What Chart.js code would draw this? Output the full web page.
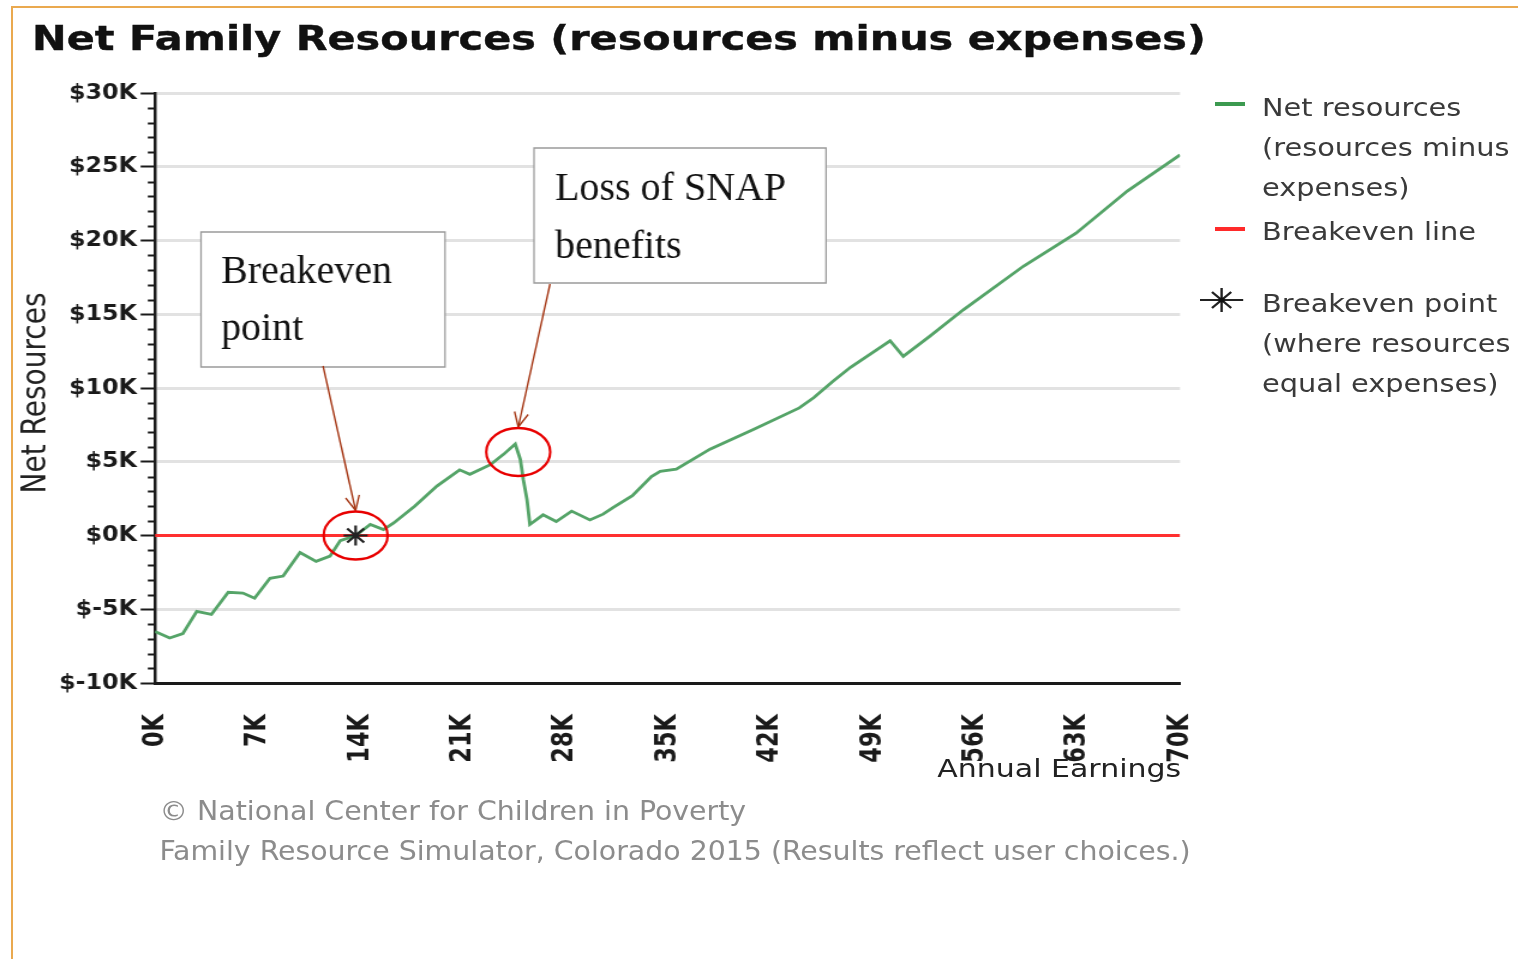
<!DOCTYPE html>
<html>
<head>
<meta charset="utf-8">
<script src="https://cdn.jsdelivr.net/npm/chart.js@4.4.0/dist/chart.umd.min.js"></script>
<style>
  html, body { margin:0; padding:0; background:#fff; width:1518px; height:959px; overflow:hidden; }
  #wrap { position:absolute; left:0; top:0; width:1265px; height:959px; transform:scaleX(1.2); transform-origin:0 0; }
  #c { position:absolute; left:0; top:0; }
  .t { position:absolute; white-space:nowrap; font-family:"DejaVu Sans", sans-serif; }
  #frame { position:absolute; left:11px; top:6px; width:1520px; height:960px; border-top:2.5px solid #eaa94f; border-left:2.5px solid #eaa94f; }
</style>
</head>
<body>
<div id="wrap">
  <canvas id="c" width="1265" height="959"></canvas>
  <div class="t" style="left:26.7px; top:20.8px; font-size:34.5px; line-height:1; font-weight:bold; color:#111; -webkit-text-stroke:0.4px #111;">Net Family Resources (resources minus expenses)</div>
  <div class="t" style="left:-121px; top:379px; width:300px; text-align:center; font-size:28px; line-height:28px; color:#222; transform:rotate(-90deg);">Net Resources</div>
  <div class="t" style="left:781px; top:756px; font-size:25px; line-height:1; color:#222;">Annual Earnings</div>
  <div class="t" style="left:133px; top:791px; font-family:'DejaVu Sans Condensed','DejaVu Sans',sans-serif; font-stretch:condensed; font-size:26.3px; line-height:40px; color:#8c8c8c;">© National Center for Children in Poverty<br>Family Resource Simulator, Colorado 2015 (Results reflect user choices.)</div>

  <svg style="position:absolute; left:0; top:0;" width="1265" height="959">
    <line x1="1012.5" y1="104" x2="1037.5" y2="104" stroke="#3c9a50" stroke-width="4"/>
    <line x1="1012.5" y1="229" x2="1037.5" y2="229" stroke="#ff2a2a" stroke-width="4"/>
    <g stroke="#222" stroke-width="2">
      <line x1="1000" y1="300" x2="1036" y2="300"/>
      <line x1="1018" y1="288" x2="1018" y2="312"/>
      <line x1="1010" y1="292" x2="1026" y2="308"/>
      <line x1="1010" y1="308" x2="1026" y2="292"/>
    </g>
    <circle cx="1018" cy="300" r="2.5" fill="#111"/>
  </svg>
  <div class="t" style="left:1051.7px; top:87.7px; font-size:24px; line-height:40px; color:#3a3a3a;">Net resources<br>(resources minus<br>expenses)</div>
  <div class="t" style="left:1051.7px; top:211.7px; font-size:24px; line-height:40px; color:#3a3a3a;">Breakeven line</div>
  <div class="t" style="left:1051.7px; top:283.7px; font-size:24px; line-height:40px; color:#3a3a3a;">Breakeven point<br>(where resources<br>equal expenses)</div>
</div>
<div id="frame"></div>

<script>
// ---- data ----
const earnings = [0, 1000, 1900, 2850, 3850, 5000, 6000, 6800, 7850, 8750, 9900, 11000, 11950, 12650, 13700, 14700, 15600, 16300, 17750, 19250, 20800, 21500, 22900, 23800, 24600, 24950, 25150, 25400, 25600, 26500, 27400, 28450, 29700, 30600, 31300, 32600, 33900, 34500, 35600, 37900, 40900, 44000, 45000, 46300, 47500, 49000, 50200, 51100, 52900, 55200, 59300, 62900, 66400, 70000];
const netResources = [-6500, -6950, -6650, -5150, -5350, -3850, -3900, -4250, -2900, -2750, -1150, -1750, -1400, -350, 0, 750, 400, 850, 2000, 3350, 4450, 4150, 4800, 5500, 6200, 5150, 3800, 2450, 750, 1400, 950, 1650, 1050, 1450, 1900, 2700, 4000, 4350, 4500, 5850, 7200, 8650, 9350, 10450, 11400, 12400, 13200, 12150, 13500, 15300, 18250, 20500, 23350, 25800];
const breakevenLineEarnings = [0, 70000];
const breakevenLineValues = [0, 0];
const breakevenPointEarnings = [13700];
const breakevenPointValues = [0];
const snapLossEarnings = [24600];
const snapLossValues = [6200];
const xTickValues = [0, 7000, 14000, 21000, 28000, 35000, 42000, 49000, 56000, 63000, 70000];
const yTickValues = [-10000, -5000, 0, 5000, 10000, 15000, 20000, 25000, 30000];
const yMinorStep = 1000;

const S = 1.2; // horizontal stretch of the whole picture

const pts = (xs, ys) => xs.map((x, i) => ({ x: x, y: ys[i] }));

const annotations = {
  id: 'annotations',
  afterDraw(chart) {
    const ctx = chart.ctx, xs = chart.scales.x, ys = chart.scales.y, ca = chart.chartArea;
    ctx.save();
    ctx.strokeStyle = '#1a1a1a';
    ctx.lineWidth = 2;
    for (let v = ys.min; v <= ys.max; v += yMinorStep) {
      if (yTickValues.includes(v)) continue;
      const y = Math.round(ys.getPixelForValue(v)) + 0.5;
      ctx.beginPath(); ctx.moveTo(ca.left - 6, y); ctx.lineTo(ca.left, y); ctx.stroke();
    }
    ctx.restore();

    ctx.save();
    ctx.scale(1 / S, 1);
    const px = v => xs.getPixelForValue(v) * S;
    const py = v => ys.getPixelForValue(v);
    const e1 = { x: px(breakevenPointEarnings[0]), y: py(breakevenPointValues[0]) };
    const e2 = { x: px(snapLossEarnings[0]) + 3, y: py(snapLossValues[0]) + 8 };
    const boxes = [
      { x: 201, y: 232, w: 244, h: 135, lines: ['Breakeven', 'point'], tx: 221, ty: [283, 340], from: { x: 323, y: 366 }, to: e1 },
      { x: 534, y: 148, w: 292, h: 135, lines: ['Loss of SNAP', 'benefits'], tx: 555, ty: [200, 258], from: { x: 550, y: 284 }, to: e2 }
    ];
    const rx = 32, ry = 24;
    boxes.forEach(b => {
      ctx.fillStyle = '#fff';
      ctx.fillRect(b.x, b.y, b.w, b.h);
      ctx.strokeStyle = '#9a9a9a';
      ctx.lineWidth = 1.5;
      ctx.strokeRect(b.x, b.y, b.w, b.h);
      ctx.fillStyle = '#111';
      ctx.font = '40px "Liberation Serif", serif';
      ctx.textBaseline = 'alphabetic';
      ctx.textAlign = 'left';
      b.lines.forEach((l, i) => ctx.fillText(l, b.tx, b.ty[i]));
      const tx = b.to.x, ty = b.to.y - ry - 1;
      ctx.strokeStyle = '#a3320f';
      ctx.lineWidth = 1.6;
      ctx.beginPath(); ctx.moveTo(b.from.x, b.from.y); ctx.lineTo(tx, ty); ctx.stroke();
      const ang = Math.atan2(ty - b.from.y, tx - b.from.x);
      const L = 16, A = 0.45;
      ctx.beginPath();
      ctx.moveTo(tx - L * Math.cos(ang - A), ty - L * Math.sin(ang - A));
      ctx.lineTo(tx, ty);
      ctx.lineTo(tx - L * Math.cos(ang + A), ty - L * Math.sin(ang + A));
      ctx.stroke();
      ctx.strokeStyle = '#e80000';
      ctx.lineWidth = 2.5;
      ctx.beginPath(); ctx.ellipse(b.to.x, b.to.y, rx, ry, 0, 0, Math.PI * 2); ctx.stroke();
    });
    ctx.restore();
  }
};

Chart.defaults.font.family = '"DejaVu Sans", sans-serif';
const condensed = '"DejaVu Sans Condensed", "DejaVu Sans", sans-serif';

new Chart(document.getElementById('c'), {
  type: 'line',
  data: {
    datasets: [
      { label: 'Breakeven line', data: pts(breakevenLineEarnings, breakevenLineValues), borderColor: '#ff3030', borderWidth: 3, pointRadius: 0, order: 3 },
      { label: 'Net resources (resources minus expenses)', data: pts(earnings, netResources), borderColor: '#55a468', borderWidth: 2.8, pointRadius: 0, tension: 0, order: 2 },
      { label: 'Breakeven point (where resources equal expenses)', data: pts(breakevenPointEarnings, breakevenPointValues), showLine: false, pointStyle: 'star', pointRadius: 10, borderColor: '#222', borderWidth: 2.2, backgroundColor: '#222', order: 1 }
    ]
  },
  options: {
    responsive: false,
    animation: false,
    devicePixelRatio: 1,
    layout: { padding: { left: 0, top: 93, right: 1265 - 983.33, bottom: 0 } },
    plugins: { legend: { display: false }, tooltip: { enabled: false }, title: { display: false } },
    scales: {
      x: {
        type: 'linear', min: 0, max: 70000,
        afterBuildTicks: s => { s.ticks = xTickValues.map(v => ({ value: v })); },
        afterFit: s => { s.height = 959 - 683; },
        grid: { display: false, drawTicks: false },
        border: { display: true, color: '#1a1a1a', width: 3 },
        ticks: { autoSkip: false, minRotation: 90, maxRotation: 90, padding: 31, color: '#1a1a1a', font: { family: condensed, size: 25, weight: 'bold' }, callback: v => (v / 1000) + 'K' }
      },
      y: {
        type: 'linear', min: -10000, max: 30000,
        afterBuildTicks: s => { s.ticks = yTickValues.map(v => ({ value: v })); },
        afterFit: s => { s.width = 129.17; },
        grid: { color: '#e2e2e2', lineWidth: 3, tickColor: '#1a1a1a', tickLength: 12, tickWidth: 2 },
        border: { display: true, color: '#1a1a1a', width: 2.5 },
        ticks: { padding: 3, color: '#1a1a1a', font: { family: condensed, size: 22, weight: 'bold' }, callback: v => '$' + (v / 1000) + 'K' }
      }
    }
  },
  plugins: [annotations]
});
</script>
</body>
</html>
